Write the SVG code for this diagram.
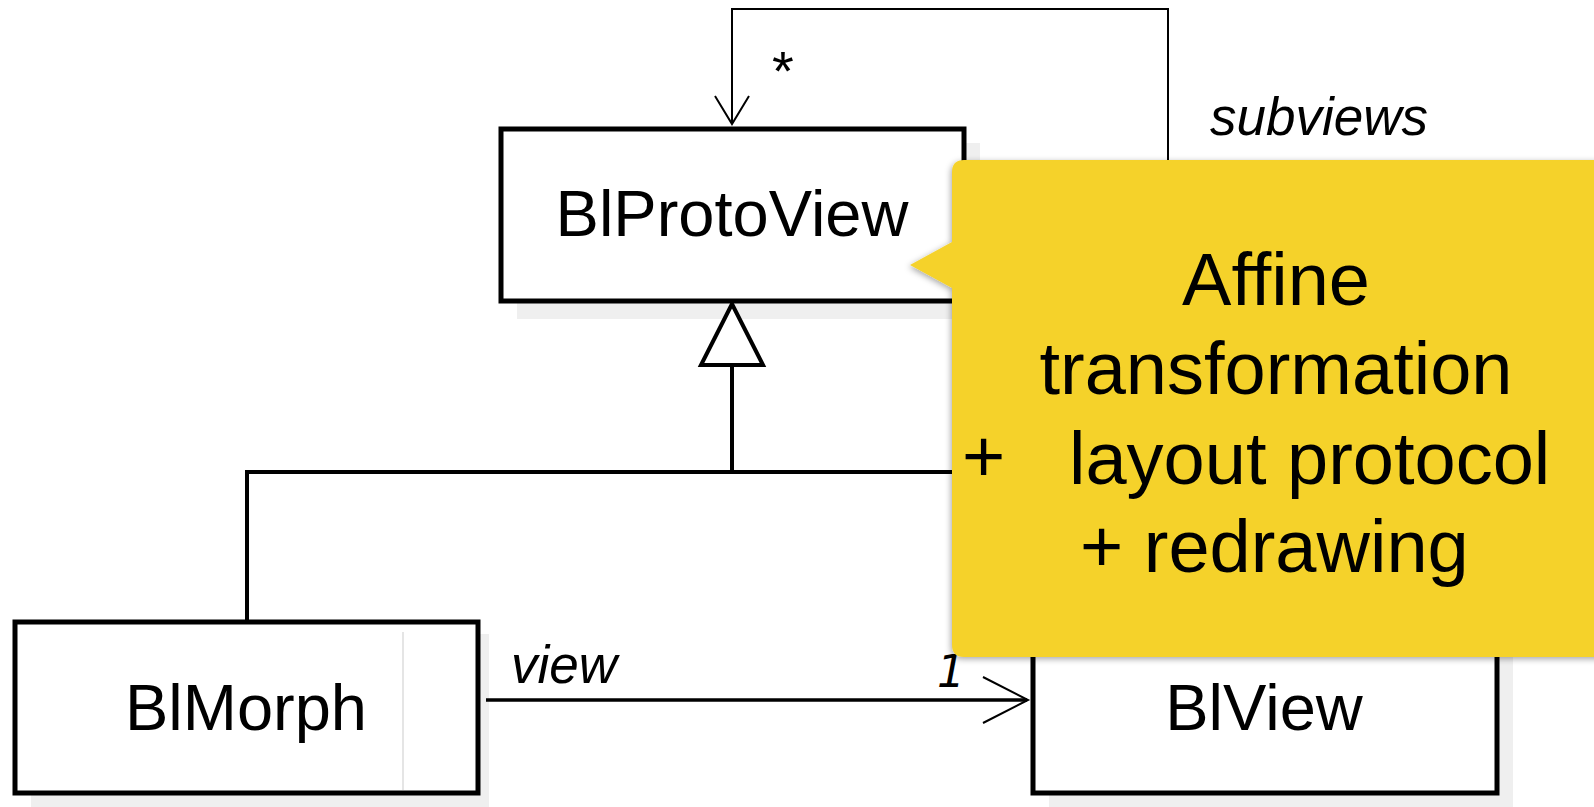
<svg xmlns="http://www.w3.org/2000/svg" width="1594" height="807" viewBox="0 0 1594 807">
<style>
.box{fill:#fff;stroke:#000;stroke-width:5}
.shadow{fill:#efefef}
.name{font-family:"Liberation Sans",Arial,sans-serif;font-size:65px;fill:#000;text-anchor:middle}
.lbl{font-family:"Liberation Sans",Arial,sans-serif;font-style:italic;font-size:53px;fill:#000}
.thin{fill:none;stroke:#000;stroke-width:2}
.thick{fill:none;stroke:#000;stroke-width:4}
.note{font-family:"Liberation Sans",Arial,sans-serif;font-size:74px;fill:#000}
</style>
<defs>
<filter id="ds" x="-10%" y="-10%" width="120%" height="120%">
<feDropShadow dx="-1" dy="2" stdDeviation="3" flood-color="#000" flood-opacity="0.35"/>
</filter>
</defs>
<rect width="1594" height="807" fill="#fff"/>
<g id="BlProtoView">
<rect class="shadow" x="517" y="143" width="463" height="176"/>
<rect class="box" x="501" y="129" width="463" height="172"/>
<text class="name" x="732" y="236">BlProtoView</text>
</g>
<g id="BlMorph">
<rect class="shadow" x="31" y="634" width="458" height="173"/>
<rect class="box" x="15" y="622" width="463" height="171"/>
<line x1="403" y1="632" x2="403" y2="790" stroke="#ddd" stroke-width="1.5"/>
<text class="name" x="246" y="730">BlMorph</text>
</g>
<g id="BlView">
<rect class="shadow" x="1049" y="634" width="464" height="173"/>
<rect class="box" x="1033" y="622" width="464" height="171"/>
<text class="name" x="1264" y="730">BlView</text>
</g>
<g id="connectors">
<polyline class="thin" points="1168,160 1168,9 732,9 732,123"/>
<polyline class="thin" points="715,96 732,124 749,96" stroke="#444"/>
<text class="lbl" x="1210" y="135">subviews</text>
<text x="772" y="90" font-family="Liberation Sans,Arial,sans-serif" font-size="56" fill="#000">*</text>
<polyline class="thick" points="732,366 732,472"/>
<polyline class="thick" points="247,620 247,472 1264,472 1264,620"/>
<polygon points="732,304 701,365 763,365" fill="#fff" stroke="#000" stroke-width="4" stroke-linejoin="miter"/>
<line x1="486" y1="700" x2="1027" y2="700" stroke="#000" stroke-width="3.5"/>
<polyline class="thin" points="983,677 1028,700 983,723"/>
<text class="lbl" x="511" y="683">view</text>
<text x="937" y="687" font-family="DejaVu Sans,sans-serif" font-style="italic" font-size="44" fill="#000">1</text>
</g>
<g id="callout">
<path d="M964,160 H1610 V657 H964 Q952,657 952,645 V288 L910,265 L952,242 V172 Q952,160 964,160 Z" fill="#F5D22A" filter="url(#ds)"/>
<text class="note" x="1276" y="305" text-anchor="middle">Affine</text>
<text class="note" x="1276" y="394" text-anchor="middle">transformation</text>
<text class="note" x="962" y="482" font-size="56">+</text>
<text class="note" x="1069" y="484">layout protocol</text>
<text class="note" x="1080" y="572">+ redrawing</text>
</g>
</svg>
